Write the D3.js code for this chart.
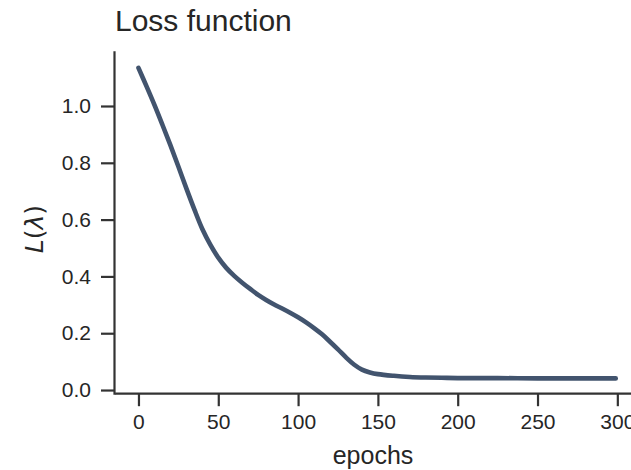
<!DOCTYPE html>
<html>
<head>
<meta charset="utf-8">
<script src="https://cdn.jsdelivr.net/npm/d3@7"></script>
<style>
  body { margin: 0; background: #fff; }
  text { fill: #262626; font-family: "Liberation Sans", Arial, sans-serif; }
</style>
</head>
<body>
<div id="chart"></div>
<script>
// loss, per epoch
const epochs = [0, 5, 10, 15, 20, 25, 30, 35, 40, 45, 50, 55, 60, 65, 70, 75, 80, 85, 90, 95,
                100, 105, 110, 115, 120, 125, 130, 135, 140, 145, 150, 160, 170, 180, 190, 200, 225, 250, 275, 299];
const loss = [1.134, 1.07, 1.004, 0.934, 0.862, 0.787, 0.71, 0.636, 0.567, 0.512, 0.466, 0.430, 0.402, 0.378, 0.356, 0.335, 0.317, 0.301, 0.287, 0.272,
              0.256, 0.238, 0.218, 0.196, 0.170, 0.143, 0.115, 0.090, 0.072, 0.062, 0.056, 0.050, 0.046, 0.044, 0.043, 0.042, 0.042, 0.041, 0.041, 0.041];
const xTicks = [0, 50, 100, 150, 200, 250, 300];
const yTicks = [0.0, 0.2, 0.4, 0.6, 0.8, 1.0];

const width = 631, height = 470;
const svg = d3.select("#chart").append("svg")
    .attr("width", width)
    .attr("height", height);

// matplotlib-ish 5% margins around the data
const xScale = d3.scaleLinear().domain([-14.95, 313.95]).range([114.6, 639.6]);
const yScale = d3.scaleLinear().domain([-0.0147, 1.1947]).range([394.2, 50.7]);

const ink = "#333333";

// axes
const xAxis = svg.append("g")
    .attr("transform", `translate(0,${yScale.range()[0] - 1})`)
    .call(d3.axisBottom(xScale).tickValues(xTicks).tickSize(13).tickPadding(7).tickSizeOuter(0));
const yAxis = svg.append("g")
    .attr("transform", `translate(${xScale.range()[0] - 0.6},0)`)
    .call(d3.axisLeft(yScale).tickValues(yTicks).tickFormat(d3.format(".1f")).tickSize(13).tickPadding(10).tickSizeOuter(0));

[xAxis, yAxis].forEach(a => {
  a.select(".domain").attr("stroke", ink).attr("stroke-width", 2.2);
  a.selectAll(".tick line").attr("stroke", ink).attr("stroke-width", 2.2);
  a.selectAll(".tick text")
    .attr("fill", "#262626")
    .style("font-family", "'Liberation Sans', Arial, sans-serif")
    .style("font-size", "21px");
});
xAxis.selectAll(".tick text").attr("dy", "0.75em");

// loss curve
const line = d3.line()
    .x((d, i) => xScale(epochs[i]))
    .y(d => yScale(d))
    .curve(d3.curveCatmullRom.alpha(0.5));

svg.append("path")
    .datum(loss)
    .attr("d", line)
    .attr("fill", "none")
    .attr("stroke", "#42546e")
    .attr("stroke-width", 4.6)
    .attr("stroke-linecap", "round")
    .attr("stroke-linejoin", "round");

// title and labels
svg.append("text")
    .attr("x", 115)
    .attr("y", 31)
    .style("font-size", "30px")
    .text("Loss function");

svg.append("text")
    .attr("x", 373)
    .attr("y", 464)
    .attr("text-anchor", "middle")
    .style("font-size", "25px")
    .text("epochs");

const yl = svg.append("text")
    .attr("transform", "translate(43,229) rotate(-90)")
    .attr("text-anchor", "middle")
    .style("font-family", "'DejaVu Sans', sans-serif")
    .style("font-size", "25px");
yl.append("tspan").style("font-style", "italic").text("L");
yl.append("tspan").text("(");
yl.append("tspan").style("font-style", "italic").text("λ");
yl.append("tspan").text(")");
</script>
</body>
</html>
